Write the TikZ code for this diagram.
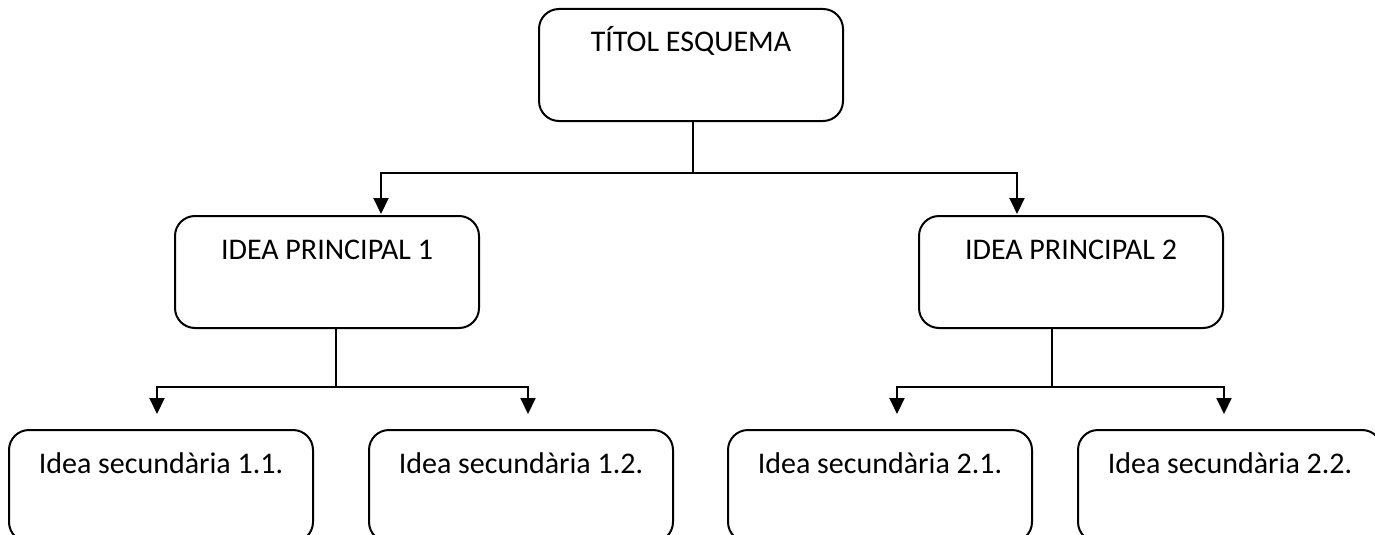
\documentclass[tikz,border=0pt]{standalone}
\usepackage{fontspec}
\setmainfont{Carlito}
\usetikzlibrary{arrows.meta}
\begin{document}
\begin{tikzpicture}[x=1pt,y=-1pt,
  box/.style={draw, line width=2pt, rounded corners=20pt, minimum width=304pt, minimum height=112pt,
    inner sep=0pt, outer sep=0pt, text height=20pt, text depth=46pt,
    font=\fontsize{30}{36}\selectfont},
  conn/.style={line width=2pt},
  arr/.style={line width=2pt, -{Triangle[width=15pt,length=16pt]}}
]
\clip (0,0) rectangle (1375,535);
\fill[white] (0,0) rectangle (1375,535);
\node[box] (t) at (691,65) {TÍTOL ESQUEMA};
\node[box] (p1) at (327,272) {IDEA PRINCIPAL 1};
\node[box] (p2) at (1071,272) {IDEA PRINCIPAL 2};
\node[box] (s11) at (161,486) {Idea secundària 1.1.};
\node[box] (s12) at (521,486) {Idea secundària 1.2.};
\node[box] (s21) at (880,486) {Idea secundària 2.1.};
\node[box] (s22) at (1230,486) {Idea secundària 2.2.};
% junctions
\coordinate (j0) at (693,173);
\coordinate (a1) at (381,173);
\coordinate (a2) at (1017,173);
\coordinate (j1) at (336,387);
\coordinate (b11) at (157,387);
\coordinate (b12) at (528,387);
\coordinate (j2) at (1052,387);
\coordinate (b21) at (897,387);
\coordinate (b22) at (1224,387);
\draw[conn] (t.south -| j0) -- (j0);
\draw[arr] (j0) -- (a1) -- ([yshift=2pt]p1.north -| a1);
\draw[arr] (j0) -- (a2) -- ([yshift=2pt]p2.north -| a2);
\draw[conn] (p1.south -| j1) -- (j1);
\draw[arr] (j1) -- (b11) -- ([yshift=16pt]s11.north -| b11);
\draw[arr] (j1) -- (b12) -- ([yshift=16pt]s12.north -| b12);
\draw[conn] (p2.south -| j2) -- (j2);
\draw[arr] (j2) -- (b21) -- ([yshift=16pt]s21.north -| b21);
\draw[arr] (j2) -- (b22) -- ([yshift=16pt]s22.north -| b22);
\end{tikzpicture}
\end{document}
